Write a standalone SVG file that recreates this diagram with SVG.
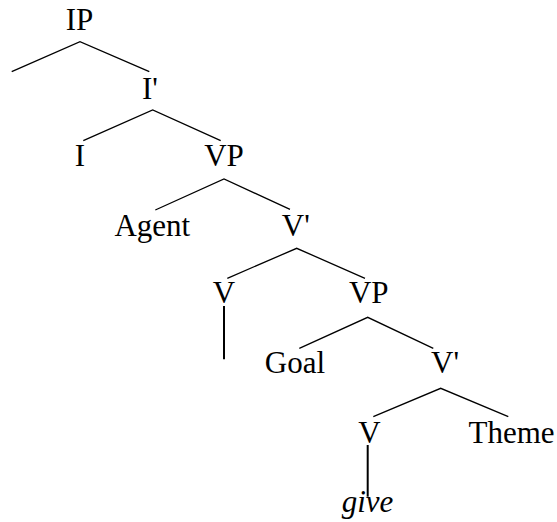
<svg xmlns="http://www.w3.org/2000/svg" width="557" height="522" viewBox="0 0 557 522">
<style>
text{font-family:"Liberation Serif","Times New Roman",serif;font-size:31px;fill:#000;text-anchor:middle}
.it{font-style:italic}
.e{stroke:#000;stroke-width:1.3;fill:none}
.v{stroke:#000;stroke-width:2;fill:none}
</style>
<rect width="557" height="522" fill="#fff"/>
<g id="connectors">
<path class="e" d="M11.7,71.7 L80,41.7 L149.3,71.7"/>
<path class="e" d="M83.3,140.7 L152.7,110 L220.7,140.7"/>
<path class="e" d="M155.3,210 L224,179 L290,209.3"/>
<path class="e" d="M227.3,278.3 L296.7,248.3 L365,278.3"/>
<path class="e" d="M299.3,348.3 L367.7,317.3 L433.3,348.3"/>
<path class="e" d="M373.3,416.7 L440.7,388.3 L508.3,416.7"/>
<line class="v" x1="224" y1="306" x2="224" y2="359.3"/>
<line class="v" x1="367.7" y1="445" x2="367.7" y2="496.7"/>
</g>
<g id="IP"><text x="79.5" y="30">IP</text></g>
<g id="Ibar"><text x="150" y="99">I'</text></g>
<g id="I"><text x="80" y="166">I</text></g>
<g id="VP1"><text x="224" y="166">VP</text></g>
<g id="Agent"><text x="152.3" y="236">Agent</text></g>
<g id="Vbar1"><text x="295.8" y="236">V'</text></g>
<g id="V1"><text x="224" y="303">V</text></g>
<g id="VP2"><text x="368.7" y="303">VP</text></g>
<g id="Goal"><text x="295" y="373">Goal</text></g>
<g id="Vbar2"><text x="445" y="373">V'</text></g>
<g id="V2"><text x="369.5" y="443">V</text></g>
<g id="Theme"><text x="511.5" y="443">Theme</text></g>
<g id="give"><text class="it" x="367.5" y="512">give</text></g>
</svg>
